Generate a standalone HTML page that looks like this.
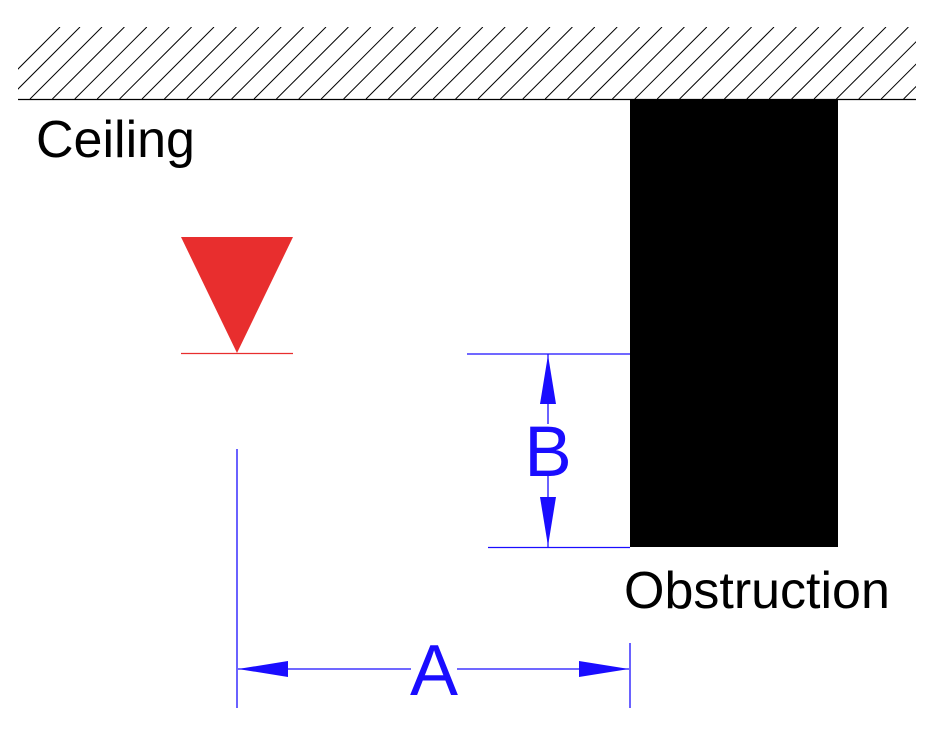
<!DOCTYPE html>
<html><head><meta charset="utf-8"><style>
html,body{margin:0;padding:0;background:#fff;}
svg{display:block;}
</style></head><body>
<svg width="949" height="733" viewBox="0 0 949 733" xmlns="http://www.w3.org/2000/svg">
<defs><clipPath id="c"><rect x="18" y="27" width="898" height="72"/></clipPath></defs>
<g clip-path="url(#c)" stroke="#000" stroke-width="1">
<script>/* none */</script>
</g>
<g clip-path="url(#c)" stroke="#000" stroke-width="1" id="h"></g>
<line x1="18" y1="99.5" x2="916" y2="99.5" stroke="#000" stroke-width="1.3"/>
<rect x="630" y="99" width="208" height="448" fill="#000"/>
<text x="36" y="157" font-family="Liberation Sans, sans-serif" font-size="52">Ceiling</text>
<text x="624" y="608" font-family="Liberation Sans, sans-serif" font-size="52">Obstruction</text>
<polygon points="181,237 293,237 237,353" fill="#e82e2e"/>
<line x1="181" y1="353.5" x2="293" y2="353.5" stroke="#e82e2e" stroke-width="1.2"/>
<g stroke="#1a0dff" stroke-width="1.3" fill="#1a0dff">
<line x1="467" y1="354" x2="630" y2="354"/>
<line x1="488" y1="547.5" x2="630" y2="547.5"/>
<line x1="548" y1="354" x2="548" y2="424"/>
<line x1="548" y1="476" x2="548" y2="547"/>
<polygon points="548,355 540,404 556,404" stroke="none"/>
<polygon points="548,546 540,497 556,497" stroke="none"/>
<line x1="237" y1="449" x2="237" y2="708"/>
<line x1="630" y1="643" x2="630" y2="708"/>
<line x1="238" y1="669" x2="411" y2="669"/>
<line x1="457" y1="669" x2="629" y2="669"/>
<polygon points="238,669 288,661 288,677" stroke="none"/>
<polygon points="629,669 579,661 579,677" stroke="none"/>
</g>
<text x="548" y="476" text-anchor="middle" font-family="Liberation Sans, sans-serif" font-size="71" fill="#1a0dff">B</text>
<text x="434" y="695" text-anchor="middle" font-family="Liberation Sans, sans-serif" font-size="72" fill="#1a0dff">A</text>
<g clip-path="url(#c)" stroke="#000" stroke-width="1">
<line x1="-12" y1="99" x2="60" y2="27"/><line x1="8" y1="99" x2="80" y2="27"/>
<line x1="30" y1="99" x2="102" y2="27"/><line x1="52.4" y1="99" x2="124.4" y2="27"/>
<line x1="74.8" y1="99" x2="146.8" y2="27"/><line x1="97.2" y1="99" x2="169.2" y2="27"/>
<line x1="119.6" y1="99" x2="191.6" y2="27"/><line x1="142" y1="99" x2="214" y2="27"/>
<line x1="164.4" y1="99" x2="236.4" y2="27"/><line x1="186.8" y1="99" x2="258.8" y2="27"/>
<line x1="209.2" y1="99" x2="281.2" y2="27"/><line x1="231.6" y1="99" x2="303.6" y2="27"/>
<line x1="254" y1="99" x2="326" y2="27"/><line x1="276.4" y1="99" x2="348.4" y2="27"/>
<line x1="298.8" y1="99" x2="370.8" y2="27"/><line x1="321.2" y1="99" x2="393.2" y2="27"/>
<line x1="343.6" y1="99" x2="415.6" y2="27"/><line x1="366" y1="99" x2="438" y2="27"/>
<line x1="388.4" y1="99" x2="460.4" y2="27"/><line x1="410.8" y1="99" x2="482.8" y2="27"/>
<line x1="433.2" y1="99" x2="505.2" y2="27"/><line x1="455.6" y1="99" x2="527.6" y2="27"/>
<line x1="478" y1="99" x2="550" y2="27"/><line x1="500.4" y1="99" x2="572.4" y2="27"/>
<line x1="522.8" y1="99" x2="594.8" y2="27"/><line x1="545.2" y1="99" x2="617.2" y2="27"/>
<line x1="567.6" y1="99" x2="639.6" y2="27"/><line x1="590" y1="99" x2="662" y2="27"/>
<line x1="612.4" y1="99" x2="684.4" y2="27"/><line x1="634.8" y1="99" x2="706.8" y2="27"/>
<line x1="657.2" y1="99" x2="729.2" y2="27"/><line x1="679.6" y1="99" x2="751.6" y2="27"/>
<line x1="702" y1="99" x2="774" y2="27"/><line x1="724.4" y1="99" x2="796.4" y2="27"/>
<line x1="746.8" y1="99" x2="818.8" y2="27"/><line x1="769.2" y1="99" x2="841.2" y2="27"/>
<line x1="791.6" y1="99" x2="863.6" y2="27"/><line x1="814" y1="99" x2="886" y2="27"/>
<line x1="836.4" y1="99" x2="908.4" y2="27"/><line x1="858.8" y1="99" x2="930.8" y2="27"/>
<line x1="881.2" y1="99" x2="953.2" y2="27"/><line x1="903.6" y1="99" x2="975.6" y2="27"/>
</g>
</svg>
</body></html>
